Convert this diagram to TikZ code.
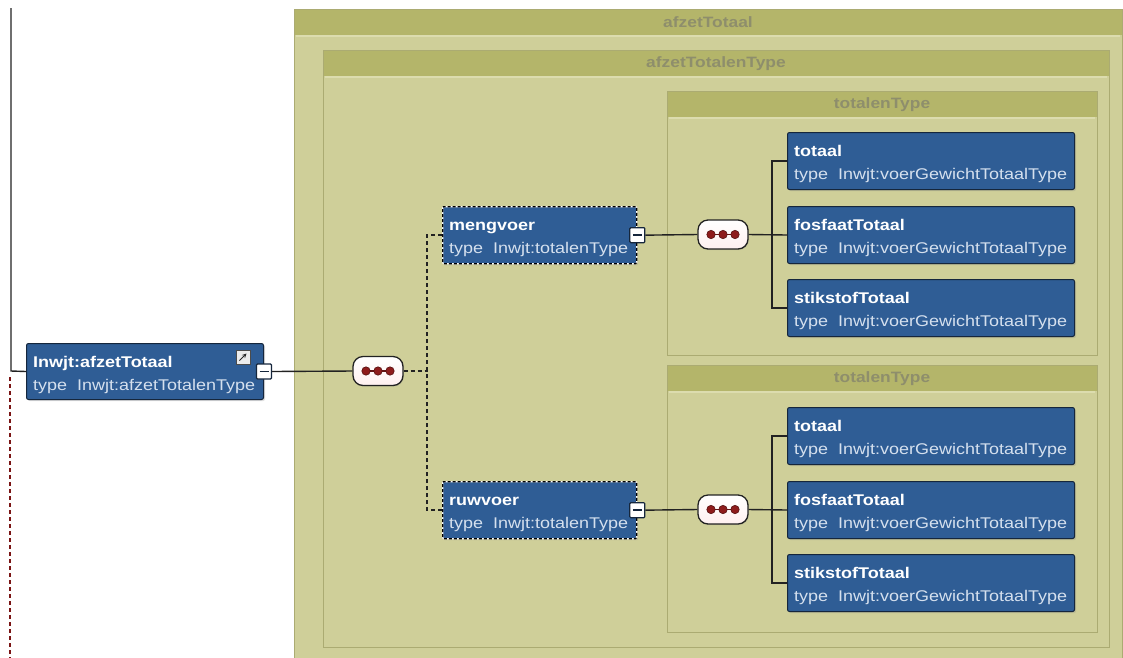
\documentclass[tikz,border=0pt]{standalone}
\usepackage{fontspec}
\newfontfamily\xsdfont[FakeStretch=1.16]{Liberation Sans}
\usetikzlibrary{calc,shadows}

\definecolor{hdrband}{HTML}{B4B56A}
\definecolor{grpbody}{HTML}{CFCF99}
\definecolor{grpedge}{HTML}{ABAB72}
\definecolor{grplight}{HTML}{DCDCAE}
\definecolor{hdrtext}{HTML}{8E8E6C}
\definecolor{elemblue}{HTML}{2F5D95}
\definecolor{elemedge}{HTML}{15263C}
\definecolor{typetext}{HTML}{D5E0EE}
\definecolor{dotred}{HTML}{8E1B1B}
\definecolor{wire}{HTML}{222222}

% a model group: body, header band and centred title
\newcommand\grp[6]{%
  \fill[grpbody] (#2,#3) rectangle (#4,#5);
  \fill[hdrband] (#2,#3) rectangle (#4,{#3+26});
  \draw[grplight, line width=1.5pt] ({#2+2},{#3+27}) -- ({#4-2},{#3+27});
  \draw[grpedge, line width=1pt] (#2,#3) rectangle (#4,#5);
  \node[grptitle] (#1) at ({(#2+#4)/2},{#3+13.5}) {#6};
}

% an element box with its name and its type line
\newcommand\elem[8]{%
  \node[#8, minimum width=#4pt, minimum height=#5pt, anchor=north west] (#1) at (#2,#3) {};
  \node[nametext] (#1-n) at ($(#1.north west)+(7,24)$) {#6};
  \node[typeline] (#1-t) at ($(#1.north west)+(7,47)$) {type\ \ #7};
}

% sequence compositor
\newcommand\seq[3]{%
  \node[seqbox] (#1) at (#2,#3) {};
  \draw[dotred!70!black, line width=1.3pt] ($(#1)+(-12,0)$) -- ($(#1)+(12,0)$);
  \foreach \dx in {-12,0,12}
    \filldraw[fill=dotred, draw=dotred!60!black, line width=0.6pt] ($(#1)+(\dx,0)$) circle (4.2pt);
}

\tikzset{
  grptitle/.style={font=\xsdfont\fontsize{15}{18}\selectfont\bfseries, text=hdrtext, inner sep=0pt},
  elembox/.style={rectangle, rounded corners=2pt, fill=elemblue, draw=elemedge, line width=1pt,
    drop shadow={opacity=0.25, shadow xshift=1.5pt, shadow yshift=-1.5pt}},
  optbox/.style={rectangle, rounded corners=1pt, fill=elemblue, draw=white, line width=1.3pt,
    drop shadow={opacity=0.25, shadow xshift=1.5pt, shadow yshift=-1.5pt},
    postaction={draw=black, line width=1.3pt, dash pattern=on 3pt off 2pt}},
  nametext/.style={anchor=base west, inner sep=0pt, text=white,
    font=\xsdfont\fontsize{15.5}{18}\selectfont\bfseries},
  typeline/.style={anchor=base west, inner sep=0pt, text=typetext,
    font=\xsdfont\fontsize{15.5}{18}\selectfont},
  minusbox/.style={rectangle, rounded corners=1pt, minimum size=15pt, inner sep=0pt, fill=white, draw=elemedge, line width=1.2pt,
    path picture={\draw[line width=1.5pt, elemedge]
      ([xshift=3pt]path picture bounding box.west) -- ([xshift=-3pt]path picture bounding box.east);}},
  seqbox/.style={rectangle, rounded corners=10pt, minimum width=50pt, minimum height=29pt, inner sep=0pt,
    top color=white, bottom color=red!6, draw=wire, line width=1.3pt,
    drop shadow={opacity=0.2, shadow xshift=1pt, shadow yshift=-1pt}},
  wireline/.style={draw=wire, line width=1.4pt},
  dashwire/.style={draw=wire, line width=1.4pt, dash pattern=on 4pt off 3pt},
}

\begin{document}
\begin{tikzpicture}[x=1pt, y=-1pt]
\useasboundingbox (0,0) rectangle (1123,657);
\clip (0,0) rectangle (1123,657);
\fill[white] (0,0) rectangle (1123,657);

% nested model groups
\grp{gOuter}{294}{9}{1122}{700}{afzetTotaal}
\grp{gInner}{323}{50}{1109}{647}{afzetTotalenType}
\grp{gTotA}{667}{91}{1097}{355}{totalenType}
\grp{gTotB}{667}{365}{1097}{632}{totalenType}

% root element
\elem{root}{26}{343}{237}{56}{Inwjt:afzetTotaal}{Inwjt:afzetTotalenType}{elembox}
\node[rectangle, minimum size=14pt, inner sep=0pt, fill=gray!15, draw=gray!60!black, line width=0.8pt] (rootIcon) at (243,357) {};
\draw[-{stealth}, line width=1pt, gray!30!black] ($(rootIcon)+(-3.5,3.5)$) -- ($(rootIcon)+(3.5,-3.5)$);
\node[minusbox] (rootMinus) at (root.east) {};

% incoming line on the left
\coordinate (topIn) at (11,8);
\coordinate (bendIn) at (11,371);
\coordinate (lowA) at (10,377);
\coordinate (lowB) at (10,660);
\draw[wireline] (topIn) -- (bendIn) -- (root.west);
\draw[draw=wire!60!red, line width=1.4pt, dash pattern=on 4pt off 3pt] (lowA) -- (lowB);

% main sequence and its two optional children
\seq{seqMain}{378}{371}
\draw[wireline] (rootMinus.east) -- (seqMain.west);

\elem{mengvoer}{442}{206}{194}{57}{mengvoer}{Inwjt:totalenType}{optbox}
\elem{ruwvoer}{442}{481}{194}{57}{ruwvoer}{Inwjt:totalenType}{optbox}
\node[minusbox] (mengMinus) at (mengvoer.east) {};
\node[minusbox] (ruwMinus) at (ruwvoer.east) {};

\coordinate (split) at (427,371);
\draw[dashwire] (seqMain.east) -- (split);
\draw[dashwire] (mengvoer.west) -| (split);
\draw[dashwire] (ruwvoer.west) -| (split);

% first totalenType content
\seq{seqA}{723}{234.5}
\draw[wireline] (mengMinus.east) -- (seqA.west);
\elem{totA}{787}{132}{287}{57}{totaal}{Inwjt:voerGewichtTotaalType}{elembox}
\elem{fosA}{787}{206}{287}{57}{fosfaatTotaal}{Inwjt:voerGewichtTotaalType}{elembox}
\elem{stiA}{787}{279}{287}{57}{stikstofTotaal}{Inwjt:voerGewichtTotaalType}{elembox}
\draw[wireline] (seqA.east) -- (fosA.west);
\draw[wireline] (totA.west) -- ++(-15,0) |- (stiA.west);

% second totalenType content
\seq{seqB}{723}{509.5}
\draw[wireline] (ruwMinus.east) -- (seqB.west);
\elem{totB}{787}{407}{287}{57}{totaal}{Inwjt:voerGewichtTotaalType}{elembox}
\elem{fosB}{787}{481}{287}{57}{fosfaatTotaal}{Inwjt:voerGewichtTotaalType}{elembox}
\elem{stiB}{787}{554}{287}{57}{stikstofTotaal}{Inwjt:voerGewichtTotaalType}{elembox}
\draw[wireline] (seqB.east) -- (fosB.west);
\draw[wireline] (totB.west) -- ++(-15,0) |- (stiB.west);
\end{tikzpicture}
\end{document}
